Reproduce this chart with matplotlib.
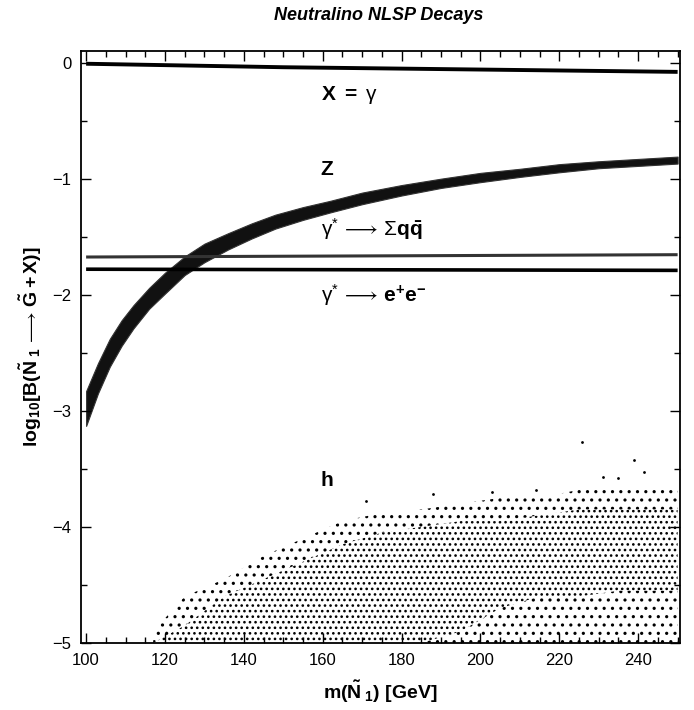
import matplotlib
matplotlib.use("Agg")
import matplotlib.pyplot as plt
import numpy as np
from matplotlib.ticker import MultipleLocator

plt.rcParams['font.family'] = ['Liberation Sans', 'DejaVu Sans']
plt.rcParams['mathtext.fontset'] = 'custom'
plt.rcParams['mathtext.rm'] = 'Liberation Sans'
plt.rcParams['mathtext.bf'] = 'Liberation Sans:bold'
plt.rcParams['mathtext.it'] = 'Liberation Sans:italic'
plt.rcParams['mathtext.fallback'] = 'stixsans'
plt.rcParams['hatch.linewidth'] = 1.1

# ---- data ----
# X = gamma line
gam_x = [100, 150, 200, 250]
gam_y = [-0.01, -0.04, -0.06, -0.08]

# gamma* -> sum q qbar line
qq_x = [100, 250]
qq_y = [-1.675, -1.655]

# gamma* -> e+ e- line
ee_x = [100, 250]
ee_y = [-1.78, -1.79]

# Z band: centre and half-width
z_x = [100, 103, 106, 109, 112, 116, 120, 125, 130, 136, 142, 148, 155,
       162, 170, 180, 190, 200, 210, 220, 230, 240, 250]
z_c = [-2.98, -2.72, -2.50, -2.33, -2.19, -2.03, -1.90, -1.75, -1.64, -1.54,
       -1.45, -1.37, -1.30, -1.24, -1.17, -1.10, -1.04, -0.99, -0.95, -0.91,
       -0.88, -0.86, -0.84]
z_hw = [0.15, 0.13, 0.12, 0.11, 0.10, 0.09, 0.09, 0.08, 0.08, 0.07, 0.065,
        0.06, 0.055, 0.05, 0.05, 0.045, 0.04, 0.04, 0.035, 0.035, 0.03,
        0.03, 0.03]

# h cloud envelopes
h_x = [117, 125, 135, 145, 155, 165, 175, 185, 195, 205, 215, 225, 235, 245, 250]
h_top = [-4.9, -4.6, -4.45, -4.25, -4.1, -3.95, -3.88, -3.85, -3.8, -3.75,
         -3.75, -3.68, -3.68, -3.65, -3.65]
h_core_top = [-5.0, -4.85, -4.6, -4.45, -4.3, -4.15, -4.05, -4.0, -3.95,
              -3.95, -3.9, -3.85, -3.85, -3.85, -3.85]
h_core_bot = [-5.0, -5.0, -5.0, -5.0, -5.0, -5.0, -5.0, -5.0, -4.9, -4.7,
              -4.6, -4.6, -4.55, -4.55, -4.55]
h_out_x = [171, 188, 203, 214, 225.8, 231, 235, 239, 241.5]
h_out_y = [-3.78, -3.72, -3.70, -3.68, -3.27, -3.57, -3.58, -3.42, -3.53]

xticks = [100, 120, 140, 160, 180, 200, 220, 240]
yticks = [0, -1, -2, -3, -4, -5]

# ---- figure ----
fig = plt.figure(figsize=(6.94, 7.10), dpi=100)
ax = fig.add_axes([0.1167, 0.0944, 0.8631, 0.8338])

ax.plot(gam_x, gam_y, color='black', lw=2.8, solid_capstyle='butt')
ax.plot(qq_x, qq_y, color='#333333', lw=2.2, solid_capstyle='butt')
ax.plot(ee_x, ee_y, color='black', lw=2.6, solid_capstyle='butt')

zc = np.array(z_c)
zh = np.array(z_hw)
ax.fill_between(z_x, zc - zh, zc + zh, color='#111111', lw=0.8,
                edgecolor='#333333')

# h cloud: stippled regions
ax.fill_between(h_x, h_core_bot, h_core_top, facecolor='none',
                edgecolor='black', hatch='...', lw=0)
ax.fill_between(h_x, h_core_top, h_top, facecolor='none',
                edgecolor='black', hatch='..', lw=0)
ax.fill_between(h_x, -5.0, h_core_bot, facecolor='none',
                edgecolor='black', hatch='..', lw=0)
ax.scatter(h_out_x, h_out_y, s=4, color='black', lw=0)

ax.set_xlim(98.7, 250.6)
ax.set_ylim(-5, 0.1)
ax.set_xticks(xticks)
ax.set_yticks(yticks)
ax.set_yticklabels(['0', '\u22121', '\u22122', '\u22123', '\u22124', '\u22125'])
ax.xaxis.set_minor_locator(MultipleLocator(5))
ax.yaxis.set_minor_locator(MultipleLocator(0.5))
ax.tick_params(which='both', direction='in', top=True, right=True,
               labelsize=12, width=1.0, pad=7)
ax.tick_params(which='major', length=7)
ax.tick_params(which='minor', length=4)
for s in ax.spines.values():
    s.set_linewidth(1.3)

ax.text(159.5, -0.28, r'$\mathbf{X}\ \mathbf{=}\ \mathrm{\gamma}$', fontsize=15,
        ha='left', va='center')
ax.text(159.5, -0.92, 'Z', fontsize=15, fontweight='bold', ha='left',
        va='center')
ax.text(159.5, -1.43, r'$\mathrm{\gamma}^{*}\,\longrightarrow\,\mathrm{\Sigma}\mathbf{q\bar{q}}$',
        fontsize=15, ha='left', va='center')
ax.text(159.5, -2.00, r'$\mathrm{\gamma}^{*}\,\longrightarrow\,\mathbf{e^{+}e^{-}}$',
        fontsize=15, ha='left', va='center')
ax.text(159.5, -3.60, 'h', fontsize=15, fontweight='bold', ha='left',
        va='center')

ax.set_xlabel(r'$\mathbf{m(\tilde{N}_{\ 1})\ [GeV]}$', fontsize=14, labelpad=8)
ax.set_ylabel(r'$\mathbf{log_{10}[B(\tilde{N}_{\ 1}}\,\longrightarrow\,\mathbf{\tilde{G} + X)]}$',
              fontsize=14, labelpad=6)
fig.text(0.545, 0.978, 'Neutralino NLSP Decays', fontsize=13,
         fontweight='bold', fontstyle='italic', ha='center', va='center')

fig.savefig('out.png', dpi=100)
